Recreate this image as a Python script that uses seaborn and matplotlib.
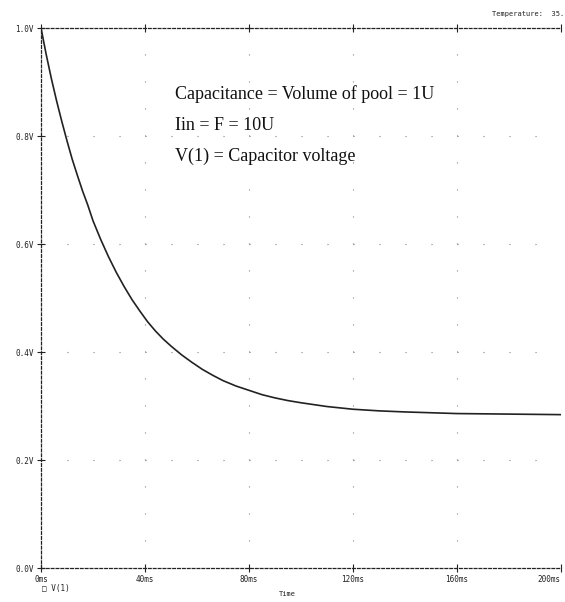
import matplotlib
matplotlib.use("Agg")
import matplotlib.pyplot as plt
import seaborn as sns
import pandas as pd

# Data (time in ms, capacitor voltage in V)
time_ms = [0, 2, 4, 6, 8, 10, 12, 14, 16, 18, 20, 23, 26, 29, 32, 35, 38, 41, 44, 47,
           50, 54, 58, 62, 66, 70, 75, 80, 85, 90, 95, 100, 110, 120, 130, 140, 160,
           180, 200]
v1 = [1.000, 0.951, 0.906, 0.865, 0.827, 0.791, 0.757, 0.727, 0.698, 0.672, 0.643,
      0.608, 0.576, 0.547, 0.521, 0.497, 0.476, 0.456, 0.439, 0.424, 0.411, 0.395,
      0.381, 0.368, 0.357, 0.347, 0.337, 0.329, 0.321, 0.315, 0.310, 0.306, 0.299,
      0.294, 0.291, 0.289, 0.286, 0.285, 0.284]

x_ticks = [0, 40, 80, 120, 160, 200]
x_labels = ["0ms", "40ms", "80ms", "120ms", "160ms", "200ms"]
y_ticks = [0.0, 0.2, 0.4, 0.6, 0.8, 1.0]
y_labels = ["0.0V", "0.2V", "0.4V", "0.6V", "0.8V", "1.0V"]

annotation_lines = ["Capacitance = Volume of pool = 1U",
                    "Iin = F = 10U",
                    "V(1) = Capacitor voltage"]

sns.set_theme(style="white")
plt.rcParams["lines.scale_dashes"] = False

df = pd.DataFrame({"t": time_ms, "v": v1})

fig = plt.figure(figsize=(5.65, 6.02), dpi=100)
ax = fig.add_axes([41 / 565, 34 / 602, 520 / 565, 540 / 602])

# dotted grid
for xt in x_ticks[1:-1]:
    ax.axvline(xt, color="#888888", lw=0.8, linestyle=(0, (0.8, 18.64)), zorder=0)
for yt in y_ticks[1:-1]:
    ax.axhline(yt, color="#888888", lw=0.8, linestyle=(0, (0.8, 17.92)), zorder=0)

sns.lineplot(data=df, x="t", y="v", ax=ax, color="#222222", lw=1.2)

ax.set_xlim(0, 200)
ax.set_ylim(0, 1.0)
ax.set_xticks(x_ticks)
ax.set_xticklabels(x_labels)
ax.set_yticks(y_ticks)
ax.set_yticklabels(y_labels)
ax.set_xlabel("")
ax.set_ylabel("")

mono = "DejaVu Sans Mono"
for lab in ax.get_xticklabels() + ax.get_yticklabels():
    lab.set_fontfamily(mono)
    lab.set_fontsize(5.5)
    lab.set_color("#222222")
ax.get_xticklabels()[-1].set_horizontalalignment("right")

ax.tick_params(axis="both", which="major", direction="inout", length=6, width=0.8,
               color="#222222", bottom=True, left=True, top=True, pad=2)
ax.tick_params(axis="x", labeltop=False)

for side in ["left", "bottom", "top"]:
    ax.spines[side].set_visible(True)
    ax.spines[side].set_color("#222222")
    ax.spines[side].set_linewidth(0.9)
    ax.spines[side].set_linestyle((0, (2, 1.5)))
ax.spines["right"].set_visible(False)

# annotation text
y0 = 0.877
for i, line in enumerate(annotation_lines):
    ax.text(0.257, y0 - i * 0.057, line, transform=ax.transAxes,
            fontfamily="Liberation Serif", fontsize=13, color="#111111",
            va="center", ha="left")

fig.text(492 / 565, 1 - 14 / 602, "Temperature:  35.", fontfamily=mono,
         fontsize=5, color="#222222", va="center", ha="left")
fig.text(42 / 565, 1 - 588 / 602, "\u25a1 V(1)", fontfamily=mono,
         fontsize=5.5, color="#222222", va="center", ha="left")
fig.text(279 / 565, 1 - 594 / 602, "Time", fontfamily=mono,
         fontsize=5, color="#222222", va="center", ha="left")

fig.savefig("out.png", dpi=100, facecolor="white")
